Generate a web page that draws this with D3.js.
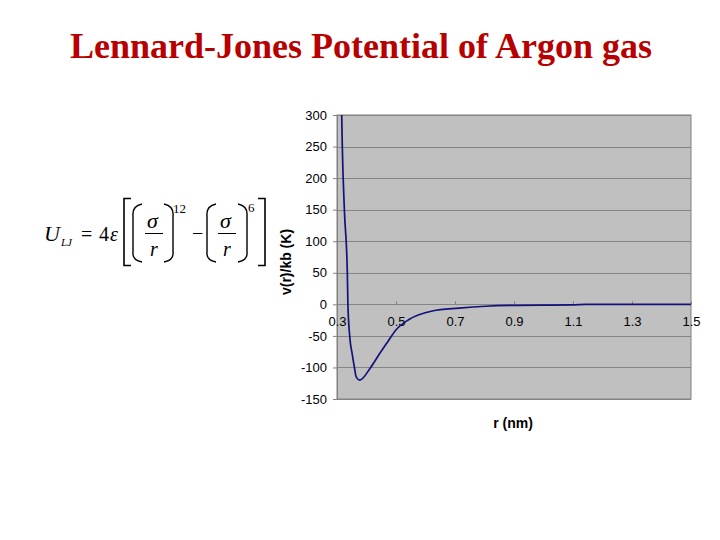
<!DOCTYPE html>
<html lang="en">
<head>
    <meta charset="UTF-8">
    <title>Lennard-Jones Potential of Argon gas</title>
    <style>
        body { margin: 0; background: #fff; }
    </style>
</head>
<script src="https://d3js.org/d3.v7.min.js"></script>
<body>
<script>
    // values: r in nm, v(r)/kb in K
    var rValues = [0.316, 0.318, 0.325, 0.335, 0.337, 0.343, 0.352, 0.359, 0.365, 0.377,
                   0.414, 0.442, 0.471, 0.499, 0.544, 0.623, 0.714, 0.804, 0.917, 1.098, 1.143, 1.5];
    var vValues = [300, 250, 150, 50, 0, -50, -80, -100, -115, -120,
                   -100, -80, -60, -41, -24, -10.5, -6, -3, -1.5, -1, 0, 0];
    var xTicks = [0.3, 0.5, 0.7, 0.9, 1.1, 1.3, 1.5];
    var yTicks = [-150, -100, -50, 0, 50, 100, 150, 200, 250, 300];

    var data = rValues.map(function (r, i) { return {r: r, v: vValues[i]}; });

    var svg = d3.select("body")
        .append("svg")
        .attr("width", 720)
        .attr("height", 540);

    svg.append("text")
        .attr("x", 361)
        .attr("y", 58)
        .attr("text-anchor", "middle")
        .attr("font-family", "'Liberation Serif', 'Times New Roman', serif")
        .attr("font-size", "36px")
        .attr("font-weight", "bold")
        .attr("fill", "#b80000")
        .text("Lennard-Jones Potential of Argon gas");

    // plot area
    var pLeft = 337, pRight = 691, pTop = 115, pBottom = 399;
    var x = d3.scaleLinear().domain([0.3, 1.5]).range([pLeft, pRight]);
    var y = d3.scaleLinear().domain([-150, 300]).range([pBottom, pTop]);

    var g = svg.append("g");

    g.append("rect")
        .attr("x", pLeft)
        .attr("y", pTop)
        .attr("width", pRight - pLeft)
        .attr("height", pBottom - pTop)
        .attr("fill", "#c0c0c0")
        .attr("stroke", "#808080")
        .attr("stroke-width", 1);

    g.selectAll(".grid")
        .data(yTicks)
        .enter().append("line")
        .attr("class", "grid")
        .attr("x1", pLeft)
        .attr("x2", pRight)
        .attr("y1", function (d) { return Math.round(y(d)) + 0.5; })
        .attr("y2", function (d) { return Math.round(y(d)) + 0.5; })
        .attr("stroke", "#858585")
        .attr("stroke-width", 1);

    // y axis
    var yAxis = g.append("g")
        .attr("transform", "translate(" + pLeft + ",0)")
        .call(d3.axisLeft(y).tickValues(yTicks).tickSize(4).tickPadding(6)
            .tickFormat(function (d) { return String(d); }));
    yAxis.select(".domain").attr("stroke", "#808080");
    yAxis.selectAll(".tick line").attr("stroke", "#808080");
    yAxis.selectAll("text")
        .attr("font-family", "'Liberation Sans', Arial, sans-serif")
        .attr("font-size", "13px")
        .attr("fill", "#000");

    // x axis sits on the zero line, labels under it
    var xAxis = g.append("g")
        .attr("transform", "translate(0," + y(0) + ")")
        .call(d3.axisTop(x).tickValues(xTicks).tickSize(3).tickFormat(d3.format(".1f")));
    xAxis.select(".domain").remove();
    xAxis.selectAll(".tick line").attr("stroke", "#808080");
    xAxis.selectAll("text")
        .attr("y", 22)
        .attr("font-family", "'Liberation Sans', Arial, sans-serif")
        .attr("font-size", "13px")
        .attr("fill", "#000");

    var line = d3.line()
        .x(function (d) { return x(d.r); })
        .y(function (d) { return y(d.v); })
        .curve(d3.curveMonotoneX);

    g.append("path")
        .datum(data)
        .attr("d", line)
        .attr("fill", "none")
        .attr("stroke", "#12127a")
        .attr("stroke-width", 1.7);

    svg.append("text")
        .attr("transform", "translate(291,262) rotate(-90)")
        .attr("text-anchor", "middle")
        .attr("font-family", "'Liberation Sans', Arial, sans-serif")
        .attr("font-size", "14px")
        .attr("font-weight", "bold")
        .text("v(r)/kb (K)");

    svg.append("text")
        .attr("x", 513)
        .attr("y", 428)
        .attr("text-anchor", "middle")
        .attr("font-family", "'Liberation Sans', Arial, sans-serif")
        .attr("font-size", "14px")
        .attr("font-weight", "bold")
        .text("r (nm)");

    // formula
    var f = svg.append("g")
        .attr("font-family", "'Liberation Serif', 'Times New Roman', serif")
        .attr("fill", "#000");
    f.append("text").attr("x", 44).attr("y", 241).attr("font-size", "22px").attr("font-style", "italic").text("U");
    f.append("text").attr("x", 61).attr("y", 246).attr("font-size", "11px").attr("font-style", "italic").text("LJ");
    f.append("text").attr("x", 81).attr("y", 241).attr("font-size", "20px").text("=");
    f.append("text").attr("x", 99).attr("y", 241).attr("font-size", "20px").text("4");
    f.append("text").attr("x", 110).attr("y", 241).attr("font-size", "20px").attr("font-style", "italic").text("ε");
    f.append("text").attr("x", 147).attr("y", 228).attr("font-size", "22px").attr("font-style", "italic").text("σ");
    f.append("text").attr("x", 150).attr("y", 256).attr("font-size", "20px").attr("font-style", "italic").text("r");
    f.append("text").attr("x", 173).attr("y", 213).attr("font-size", "13px").text("12");
    f.append("text").attr("x", 192).attr("y", 240).attr("font-size", "20px").text("−");
    f.append("text").attr("x", 220).attr("y", 228).attr("font-size", "22px").attr("font-style", "italic").text("σ");
    f.append("text").attr("x", 223).attr("y", 256).attr("font-size", "20px").attr("font-style", "italic").text("r");
    f.append("text").attr("x", 248).attr("y", 212).attr("font-size", "13px").text("6");

    var pen = f.append("g").attr("fill", "none").attr("stroke", "#000");
    // fraction bars
    pen.append("line").attr("x1", 145).attr("x2", 163).attr("y1", 233.5).attr("y2", 233.5).attr("stroke-width", 1);
    pen.append("line").attr("x1", 218).attr("x2", 236).attr("y1", 233.5).attr("y2", 233.5).attr("stroke-width", 1);
    // square brackets
    pen.append("path").attr("d", "M131,198.5 H124 V265.5 H131").attr("stroke-width", 1.6);
    pen.append("path").attr("d", "M258,198.5 H265 V265.5 H258").attr("stroke-width", 1.6);
    // parentheses
    pen.append("path").attr("d", "M142,204 Q132,206 133,216 V252 Q132,260 142,262").attr("stroke-width", 1.4);
    pen.append("path").attr("d", "M164,204 Q174,206 173,216 V252 Q174,260 164,262").attr("stroke-width", 1.4);
    pen.append("path").attr("d", "M216,204 Q206,206 207,216 V252 Q206,260 216,262").attr("stroke-width", 1.4);
    pen.append("path").attr("d", "M238,204 Q248,206 247,216 V252 Q248,260 238,262").attr("stroke-width", 1.4);
</script>
</body>
</html>
